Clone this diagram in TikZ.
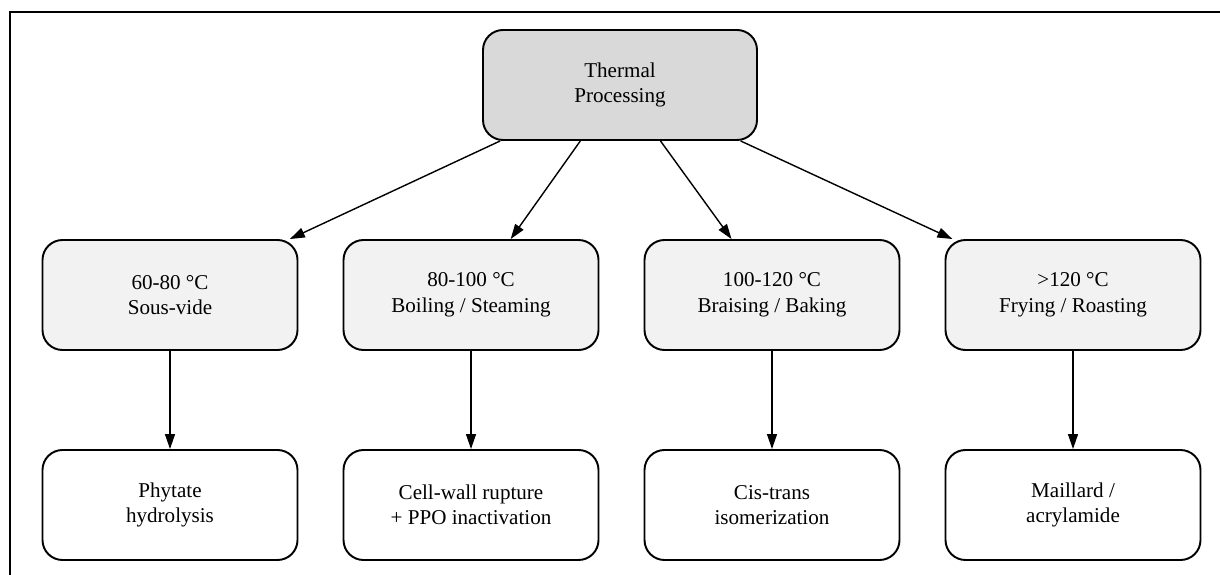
\documentclass[tikz,border=0pt]{standalone}
\usepackage{fontspec}
\setmainfont{Liberation Serif}
\definecolor{TopGray} {RGB}{217,217,217}
\definecolor{TempGray}{RGB}{242,242,242}
\usetikzlibrary{arrows.meta,positioning}

\begin{document}
\begin{tikzpicture}[every node/.style={font=\fontsize{12}{14.5}\selectfont},
    box/.style={draw=black,line width=1.1pt,rounded corners=0.4cm,
                minimum width=5.1cm,minimum height=2.2cm,align=center},
    arr/.style={-{Triangle[length=0.3cm,width=0.2cm]},line width=0.8pt}]
  \useasboundingbox (0,0) rectangle (24.4,-11.5);
  %% frame
  \draw[line width=0.9pt] (0.2,-11.5) -- (0.2,-0.24) -- (24.4,-0.24);
  %% Root
  \node[box,fill=TopGray,minimum width=5.48cm] (thermal) at (12.4,-1.7)
    {Thermal\\Processing};
  %% Temperature row and effect row
  \foreach \i/\x/\t/\e in {
      1/3.4/{60-80 °C\\Sous-vide}/{Phytate\\hydrolysis},
      2/9.42/{80-100 °C\\Boiling / Steaming}/{Cell-wall rupture\\+ PPO inactivation},
      3/15.44/{100-120 °C\\Braising / Baking}/{Cis-trans\\isomerization},
      4/21.46/{>120 °C\\Frying / Roasting}/{Maillard /\\acrylamide}}{
    \node[box,fill=TempGray] (temp\i) at (\x,-5.9) {\t};
    \node[box,fill=white] (effect\i) at (\x,-10.1) {\e};
    \draw[arr] (thermal) -- (temp\i);
    \draw[arr] (temp\i) -- (effect\i);
  }
\end{tikzpicture}
\end{document}
